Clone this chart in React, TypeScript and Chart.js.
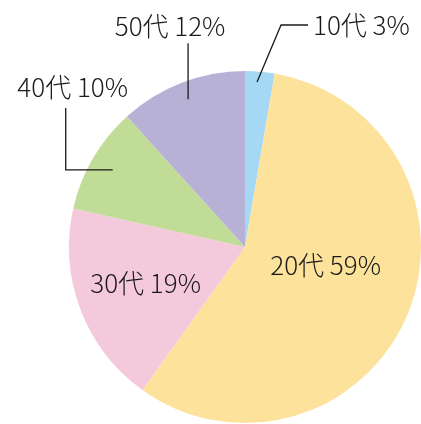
import React, { useEffect, useRef } from "react";
import { Chart, registerables } from "chart.js";

Chart.register(...registerables);

const categories = ["10代", "20代", "30代", "40代", "50代"];
const values = [2.7, 57.2, 18.6, 9.8, 11.7];
const percentLabels = ["3%", "59%", "19%", "10%", "12%"];
const colors = ["#A4D8F4", "#FDE29B", "#F5C9DC", "#C0DC97", "#B7B1D6"];

const FONT = '300 26px "Noto Sans CJK JP", "Noto Sans", sans-serif';

const labelPlugin = {
  id: "pieLabels",
  afterDatasetsDraw(chart: any) {
    const ctx = chart.ctx;
    const meta = chart.getDatasetMeta(0);
    ctx.save();
    ctx.font = FONT;
    ctx.fillStyle = "#1a1a1a";
    ctx.strokeStyle = "#1a1a1a";
    ctx.lineWidth = 1.3;
    ctx.textBaseline = "middle";

    const pt = (arc: any, frac: number, angOff = 0) => {
      const a = (arc.startAngle + arc.endAngle) / 2 + angOff;
      const r = arc.outerRadius * frac;
      return { x: arc.x + Math.cos(a) * r, y: arc.y + Math.sin(a) * r };
    };
    const text = (i: number) => categories[i] + " " + percentLabels[i];

    meta.data.forEach((arc: any, i: number) => {
      if (i === 0) {
        const p = pt(arc, 0.94, -0.012);
        const q = { x: p.x + 24, y: p.y - 57 };
        const e = { x: q.x + 27, y: q.y };
        ctx.beginPath();
        ctx.moveTo(p.x, p.y);
        ctx.lineTo(q.x, q.y);
        ctx.lineTo(e.x, e.y);
        ctx.stroke();
        ctx.textAlign = "left";
        ctx.fillText(text(i), e.x + 5, e.y);
      } else if (i === 1) {
        const p = pt(arc, 0.47, -0.17);
        ctx.textAlign = "center";
        ctx.fillText(text(i), p.x, p.y);
      } else if (i === 2) {
        const p = pt(arc, 0.6, 0.02);
        ctx.textAlign = "center";
        ctx.fillText(text(i), p.x, p.y);
      } else if (i === 3) {
        const p = pt(arc, 0.87);
        const q = { x: p.x - 47, y: p.y };
        const e = { x: q.x, y: q.y - 62 };
        ctx.beginPath();
        ctx.moveTo(p.x, p.y);
        ctx.lineTo(q.x, q.y);
        ctx.lineTo(e.x, e.y);
        ctx.stroke();
        ctx.textAlign = "center";
        ctx.fillText(text(i), e.x + 7, e.y - 21);
      } else if (i === 4) {
        const p = pt(arc, 0.9);
        const e = { x: p.x, y: p.y - 56 };
        ctx.beginPath();
        ctx.moveTo(p.x, p.y);
        ctx.lineTo(e.x, e.y);
        ctx.stroke();
        ctx.textAlign = "center";
        ctx.fillText(text(i), e.x - 18, e.y - 17);
      }
    });
    ctx.restore();
  },
};

export default function App() {
  const ref = useRef<HTMLCanvasElement | null>(null);
  useEffect(() => {
    document.body.style.margin = "0";
    const chart = new Chart(ref.current as HTMLCanvasElement, {
      type: "pie",
      data: {
        labels: categories,
        datasets: [
          {
            data: values,
            backgroundColor: colors,
            borderWidth: 0,
          },
        ],
      },
      options: {
        animation: false,
        responsive: false,
        layout: { padding: { left: 69, right: 0, top: 71, bottom: 1 } },
        plugins: {
          legend: { display: false },
          tooltip: { enabled: false },
        },
      },
      plugins: [labelPlugin],
    });
    return () => chart.destroy();
  }, []);
  return (
    <div style={{ width: 421, height: 424, background: "#fff" }}>
      <canvas ref={ref} width={421} height={424} style={{ display: "block" }} />
    </div>
  );
}
